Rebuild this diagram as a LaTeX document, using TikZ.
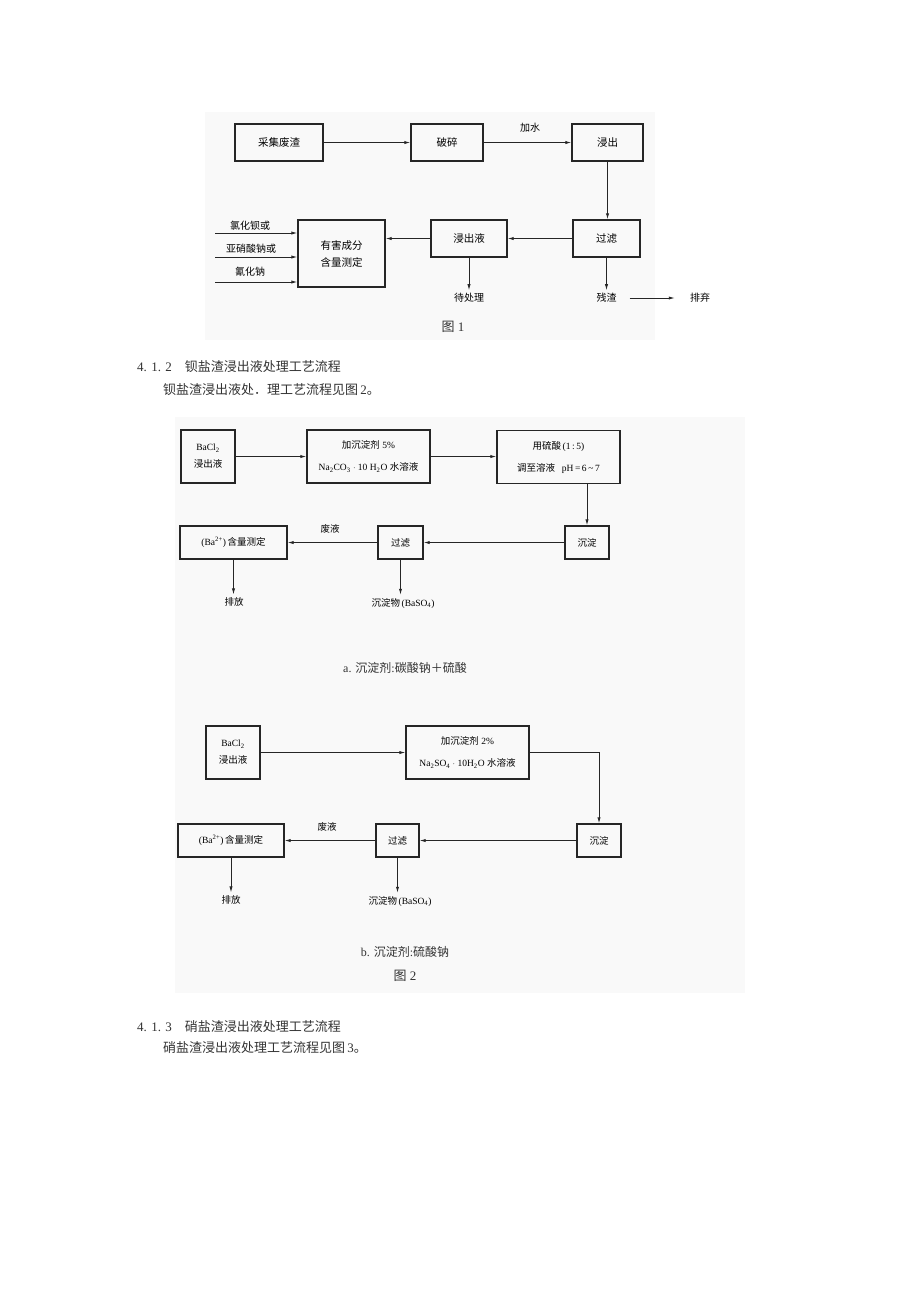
\documentclass[tikz,border=0pt]{standalone}
\usepackage{fontspec}
\setmainfont{Liberation Serif}
\newfontfamily\cjk{Noto Sans CJK SC}
\newcommand\zh[1]{{\cjk #1}}
\usetikzlibrary{arrows.meta}
\begin{document}
\begin{tikzpicture}[x=1pt,y=-1pt,
  bx/.style={draw=black!85,line width=1.3pt,inner sep=0pt,align=center,text=black},
  lbl/.style={inner sep=3pt,text=black,font=\fontsize{10}{12}\selectfont},
  arr/.style={draw=black!85,line width=0.8pt,-{Latex[length=6pt,width=3.2pt]}},
  para/.style={anchor=west,inner sep=0pt,text=black!80,font=\fontsize{13}{15}\selectfont}]
\useasboundingbox (0,0) rectangle (920,1302);
\fill[white] (0,0) rectangle (920,1302);
% backgrounds
\fill[black!2.5] (205,112) rectangle (655,340);
\fill[black!2.5] (175,417) rectangle (745,993);

% ---------- Figure 1 ----------
\begin{scope}[font=\fontsize{10.5}{13}\selectfont]
\node[bx,minimum width=88,minimum height=37] (cj) at (279,142.5) {\zh{采集废渣}};
\node[bx,minimum width=72,minimum height=37] (ps) at (447,142.5) {\zh{破碎}};
\node[bx,minimum width=71,minimum height=37] (jc) at (607.5,142.5) {\zh{浸出}};
\node[bx,minimum width=67,minimum height=37] (gl) at (606.5,238.5) {\zh{过滤}};
\node[bx,minimum width=76,minimum height=37] (jcy) at (469,238.5) {\zh{浸出液}};
\node[bx,minimum width=87,minimum height=67,font=\fontsize{10.5}{17}\selectfont] (yh) at (341.5,253.5) {\zh{有害成分}\\\zh{含量测定}};
\end{scope}
\node[lbl] (js) at (530,128) {\zh{加水}};
\draw[arr] (cj.east) -- (ps.west);
\draw[arr] (ps.east) -- (jc.west);
\draw[arr] (jc.south) -- (jc.south |- gl.north);
\draw[arr] (gl.west) -- (gl.west -| jcy.east);
\draw[arr] (jcy.west) -- (jcy.west -| yh.east);
\coordinate (i1) at (215,233);
\coordinate (i2) at (215,257);
\coordinate (i3) at (215,282);
\node[lbl] (l1) at (250,226) {\zh{氯化钡或}};
\node[lbl] (l2) at (251,248.5) {\zh{亚硝酸钠或}};
\node[lbl] (l3) at (250,272) {\zh{氰化钠}};
\draw[arr] (i1) -- (i1 -| yh.west);
\draw[arr] (i2) -- (i2 -| yh.west);
\draw[arr] (i3) -- (i3 -| yh.west);
\node[lbl] (dcl) at (469,298) {\zh{待处理}};
\node[lbl] (cz) at (606.5,298) {\zh{残渣}};
\node[lbl] (pq) at (700,298) {\zh{排弃}};
\draw[arr] (jcy.south) -- (jcy.south |- dcl.north);
\draw[arr] (gl.south) -- (gl.south |- cz.north);
\draw[arr,shorten <=10pt,shorten >=12pt] (cz.east) -- (pq.west);
\node[inner sep=0pt,text=black!80,font=\fontsize{13}{15}\selectfont] (f1) at (453,327) {\zh{图} 1};

% ---------- Paragraph 4.1.2 ----------
\node[para] (h2) at (137,367) {4. 1. 2\quad\zh{钡盐渣浸出液处理工艺流程}};
\node[para] (p2) at (163,390) {\zh{钡盐渣浸出液处．理工艺流程见图}\,2\zh{。}};

% ---------- Figure 2a ----------
\begin{scope}[font=\fontsize{9.5}{12}\selectfont]
\node[bx,minimum width=54,minimum height=53,font=\fontsize{9.5}{17}\selectfont] (b1) at (208,456.5) {BaCl\textsubscript{2}\\\zh{浸出液}};
\node[bx,minimum width=123,minimum height=53,font=\fontsize{9.5}{22}\selectfont] (b2) at (368.5,456.5) {\zh{加沉淀剂} 5\%\\Na\textsubscript{2}CO\textsubscript{3} $\cdot$ 10 H\textsubscript{2}O \zh{水溶液}};
\node[bx,minimum width=123,minimum height=53,font=\fontsize{9.5}{22}\selectfont] (b3) at (558.5,457) {\zh{用硫酸}\,(1\,:\,5)\\\zh{调至溶液}\;\, pH\,=\,6\,\textasciitilde\,7};
\node[bx,minimum width=44,minimum height=33] (b4) at (587,542.5) {\zh{沉淀}};
\node[bx,minimum width=45,minimum height=33] (b5) at (400.5,542.5) {\zh{过滤}};
\node[bx,minimum width=107,minimum height=33] (b6) at (233.5,542.5) {(Ba\textsuperscript{2+})\,\zh{含量测定}};
\node[lbl,font=\fontsize{9.5}{12}\selectfont] (fy1) at (330,529) {\zh{废液}};
\node[lbl,font=\fontsize{9.5}{12}\selectfont] (pf1) at (234,602) {\zh{排放}};
\node[lbl,font=\fontsize{9.5}{12}\selectfont] (cd1) at (403,603) {\zh{沉淀物}\,(BaSO\textsubscript{4})};
\end{scope}
\draw[arr] (b1.east) -- (b1.east -| b2.west);
\draw[arr] (b2.east) -- (b2.east -| b3.west);
\draw[arr] (b4.north |- b3.south) -- (b4.north);
\draw[arr] (b4.west) -- (b5.east);
\draw[arr] (b5.west) -- (b6.east);
\draw[arr] (b6.south) -- (b6.south |- pf1.north);
\draw[arr] (b5.south) -- (b5.south |- cd1.north);
\node[inner sep=0pt,text=black!80,font=\fontsize{12}{14}\selectfont] (capa) at (405,668) {a. \zh{沉淀剂}:\zh{碳酸钠＋硫酸}};

% ---------- Figure 2b ----------
\begin{scope}[font=\fontsize{9.5}{12}\selectfont]
\node[bx,minimum width=54,minimum height=53,font=\fontsize{9.5}{17}\selectfont] (c1) at (233,752.5) {BaCl\textsubscript{2}\\\zh{浸出液}};
\node[bx,minimum width=123,minimum height=53,font=\fontsize{9.5}{22}\selectfont] (c2) at (467.5,752.5) {\zh{加沉淀剂} 2\%\\Na\textsubscript{2}SO\textsubscript{4} $\cdot$ 10H\textsubscript{2}O \zh{水溶液}};
\node[bx,minimum width=44,minimum height=33] (c4) at (599,840.5) {\zh{沉淀}};
\node[bx,minimum width=43,minimum height=33] (c5) at (397.5,840.5) {\zh{过滤}};
\node[bx,minimum width=106,minimum height=33] (c6) at (231,840.5) {(Ba\textsuperscript{2+})\,\zh{含量测定}};
\node[lbl,font=\fontsize{9.5}{12}\selectfont] (fy2) at (327,827) {\zh{废液}};
\node[lbl,font=\fontsize{9.5}{12}\selectfont] (pf2) at (231,900) {\zh{排放}};
\node[lbl,font=\fontsize{9.5}{12}\selectfont] (cd2) at (400,901) {\zh{沉淀物}\,(BaSO\textsubscript{4})};
\end{scope}
\draw[arr] (c1.east) -- (c1.east -| c2.west);
\draw[arr] (c2.east) -| (c4.north);
\draw[arr] (c4.west) -- (c5.east);
\draw[arr] (c5.west) -- (c6.east);
\draw[arr] (c6.south) -- (c6.south |- pf2.north);
\draw[arr] (c5.south) -- (c5.south |- cd2.north);
\node[inner sep=0pt,text=black!80,font=\fontsize{12}{14}\selectfont] (capb) at (405,952) {b. \zh{沉淀剂}:\zh{硫酸钠}};
\node[inner sep=0pt,text=black!80,font=\fontsize{13}{15}\selectfont] (f2) at (405,976) {\zh{图} 2};

% ---------- Paragraph 4.1.3 ----------
\node[para] (h3) at (137,1027) {4. 1. 3\quad\zh{硝盐渣浸出液处理工艺流程}};
\node[para] (p3) at (163,1048) {\zh{硝盐渣浸出液处理工艺流程见图}\,3\zh{。}};
\end{tikzpicture}
\end{document}
